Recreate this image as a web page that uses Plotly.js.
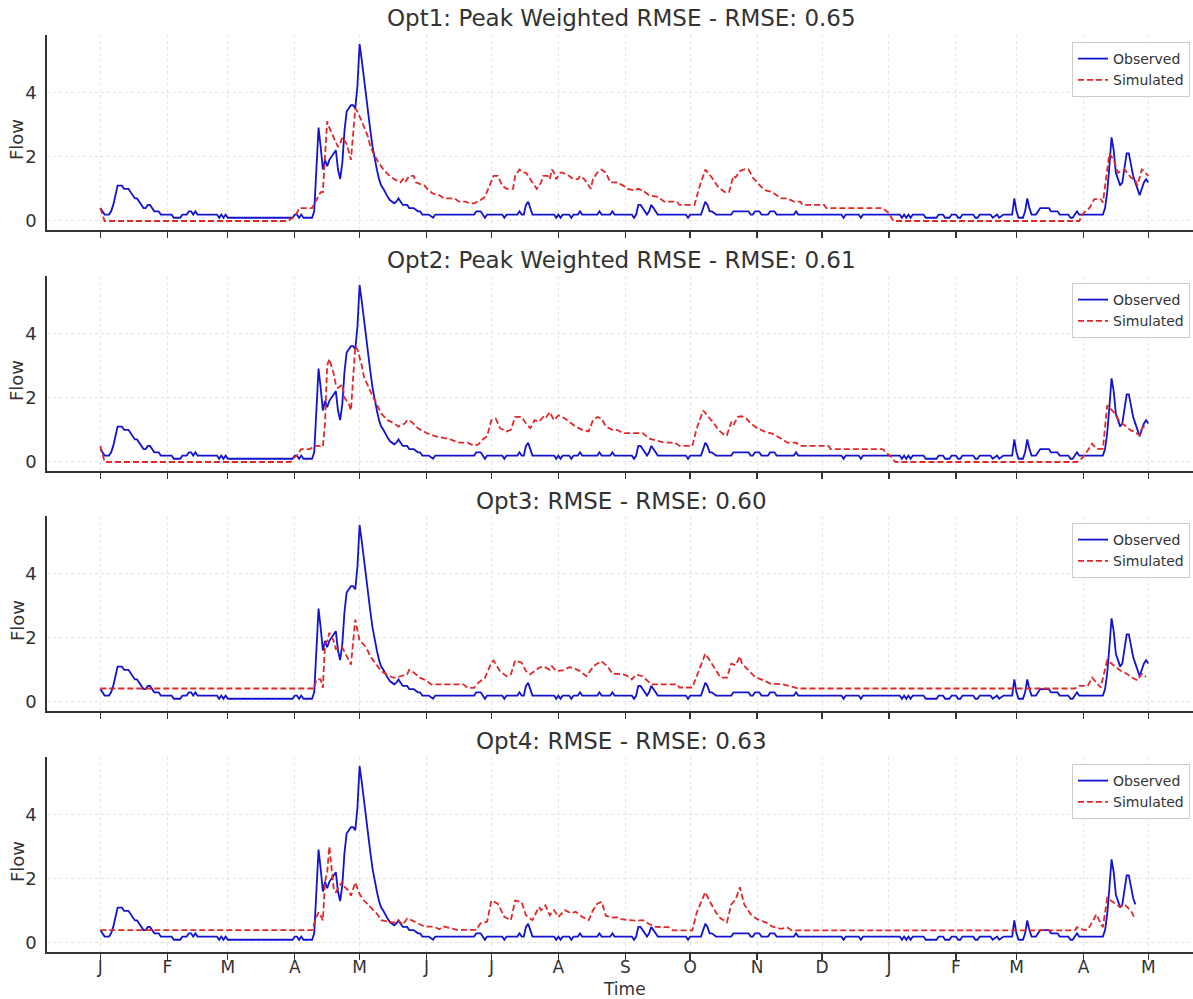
<!DOCTYPE html>
<html>
<head>
<meta charset="utf-8">
<script src="https://cdn.plot.ly/plotly-3.0.1.min.js"></script>
<style>
  html, body { margin: 0; padding: 0; background: #fff; }
  #chart { width: 1193px; height: 999px; }
</style>
</head>
<body>
<div id="chart"></div>
<script>
// Daily flow series, days counted from 1 Jan 2021.
const obsDay = [
  0,1,2,4,5,6,7,8,10,11,
  13,14,15,16,17,18,19,20,21,22,
  23,24,25,27,28,33,34,37,38,40,
  41,42,43,44,45,54,55,56,57,58,
  59,89,90,91,92,93,94,98,99,100,
  101,102,103,104,105,106,107,108,109,110,
  111,112,113,114,115,116,117,118,119,120,
  121,122,123,124,125,126,127,128,129,130,
  131,132,133,134,135,136,137,138,139,140,
  142,143,145,147,148,149,152,154,155,173,
  174,176,177,178,179,186,187,188,193,194,
  195,196,197,198,199,200,210,211,212,213,
  214,217,218,219,221,222,223,230,231,232,
  236,237,238,246,247,248,249,250,251,252,
  253,254,255,256,257,258,271,272,273,278,
  279,280,281,282,283,285,292,293,300,301,
  302,303,305,306,309,310,312,313,321,322,
  323,343,344,345,351,352,353,370,371,372,
  373,374,375,376,381,382,387,388,390,391,
  393,394,396,397,398,399,404,405,406,407,
  412,413,415,416,418,422,423,424,425,427,
  428,429,430,431,433,434,435,439,440,443,
  444,448,449,450,451,452,453,464,465,466,
  467,468,469,470,471,472,473,474,475,476,
  477,478,479,480,481,482,483,484,485
];
const obsFlow = [
  0.4,0.3,0.2,0.2,0.3,0.5,0.8,1.1,1.1,1.0,
  1.0,0.9,0.8,0.7,0.7,0.6,0.5,0.4,0.4,0.5,
  0.5,0.4,0.3,0.3,0.2,0.2,0.1,0.1,0.2,0.2,
  0.3,0.3,0.2,0.3,0.2,0.2,0.1,0.2,0.1,0.2,
  0.1,0.1,0.2,0.2,0.1,0.2,0.1,0.1,0.3,1.6,
  2.9,2.3,1.6,1.9,1.7,1.9,2.0,2.1,2.2,1.6,
  1.3,1.8,2.8,3.4,3.5,3.6,3.6,3.5,4.2,5.5,
  5.0,4.4,3.9,3.3,2.8,2.3,1.9,1.6,1.3,1.1,
  1.0,0.85,0.75,0.65,0.6,0.55,0.6,0.7,0.6,0.5,
  0.5,0.4,0.4,0.3,0.3,0.2,0.2,0.1,0.2,0.2,
  0.3,0.3,0.2,0.1,0.2,0.2,0.1,0.2,0.2,0.3,
  0.2,0.2,0.5,0.6,0.4,0.2,0.2,0.1,0.2,0.1,
  0.2,0.2,0.1,0.2,0.2,0.3,0.2,0.2,0.3,0.2,
  0.2,0.3,0.2,0.2,0.1,0.2,0.5,0.5,0.4,0.3,
  0.2,0.3,0.5,0.4,0.3,0.2,0.2,0.1,0.2,0.2,
  0.4,0.6,0.5,0.3,0.3,0.2,0.2,0.3,0.3,0.2,
  0.2,0.3,0.3,0.2,0.2,0.3,0.3,0.2,0.2,0.3,
  0.2,0.2,0.1,0.2,0.2,0.1,0.2,0.2,0.1,0.2,
  0.1,0.2,0.1,0.2,0.2,0.1,0.1,0.2,0.2,0.1,
  0.1,0.2,0.2,0.1,0.1,0.2,0.2,0.1,0.1,0.2,
  0.2,0.1,0.2,0.1,0.2,0.2,0.7,0.3,0.1,0.1,
  0.3,0.7,0.4,0.2,0.2,0.3,0.4,0.4,0.3,0.3,
  0.2,0.2,0.1,0.1,0.2,0.3,0.2,0.2,0.4,0.9,
  1.7,2.6,2.2,1.5,1.3,1.1,1.2,1.6,2.1,2.1,
  1.7,1.4,1.2,1.0,0.8,1.0,1.2,1.3,1.2
];

const sim1Day = [
  0,2,87,89,91,92,98,100,102,103,
  104,105,106,108,110,111,112,114,116,118,
  119,121,124,125,128,131,134,136,139,140,
  141,143,145,146,150,152,154,157,159,164,
  166,169,171,173,176,178,180,182,184,186,
  188,191,192,194,196,197,200,202,204,205,
  207,208,209,210,211,213,214,217,219,221,
  222,224,227,228,230,232,234,236,239,242,
  244,247,249,251,254,258,260,261,267,268,
  275,277,280,283,286,289,291,293,294,296,
  298,300,302,304,306,308,311,313,315,318,
  321,324,325,335,336,362,365,367,453,455,
  458,460,463,464,467,469,471,474,477,479,
  480,482,483,485
];
const sim1Flow = [
  0.4,0,0,0.1,0.25,0.4,0.4,0.65,0.9,0.9,
  2.2,3.1,2.9,2.6,2.3,2.4,2.6,2.4,1.9,3.5,
  3.4,3.1,2.6,2.3,1.9,1.6,1.4,1.3,1.2,1.3,
  1.2,1.4,1.4,1.2,1.1,0.95,0.85,0.8,0.7,0.7,
  0.6,0.6,0.55,0.55,0.65,0.75,1.1,1.4,1.4,1.1,
  1.0,1.0,1.4,1.6,1.5,1.5,1.2,1.0,1.2,1.4,
  1.4,1.3,1.6,1.5,1.3,1.5,1.5,1.4,1.3,1.3,
  1.4,1.3,1.0,1.3,1.5,1.6,1.5,1.2,1.2,1.1,
  1.0,0.95,1.0,0.95,0.8,0.75,0.65,0.6,0.6,0.5,
  0.5,1.0,1.6,1.35,1.05,0.9,0.9,1.4,1.35,1.55,
  1.6,1.6,1.35,1.2,1.05,0.95,0.9,0.8,0.7,0.7,
  0.6,0.6,0.5,0.5,0.4,0.4,0.24,0,0,0.24,
  0.42,0.68,0.68,0.57,2.1,1.9,1.5,1.6,1.35,1.27,
  1.1,1.6,1.55,1.4
];

const sim2Day = [
  0,2,88,89,91,93,97,99,101,103,
  104,105,106,108,109,110,112,113,115,116,
  118,119,121,122,125,128,130,133,136,138,
  141,142,144,147,151,155,158,162,166,170,
  173,175,177,179,181,183,185,188,190,192,
  195,197,199,201,203,205,206,208,210,212,
  215,218,220,223,226,228,230,232,234,237,
  239,242,245,247,249,251,254,257,261,266,
  268,274,276,279,281,284,286,289,290,292,
  293,295,297,299,301,304,308,311,315,318,
  322,324,337,338,362,366,368,452,454,456,
  459,461,464,466,469,472,474,477,479,481,
  482,483,484
];
const sim2Flow = [
  0.5,0,0,0.1,0.2,0.4,0.4,0.5,0.5,0.47,
  1.2,3.0,3.2,2.75,2.4,2.3,2.4,2.0,1.8,1.6,
  3.6,3.5,3.0,2.65,2.2,1.8,1.5,1.3,1.2,1.1,
  1.2,1.3,1.25,1.05,0.9,0.8,0.75,0.7,0.6,0.6,
  0.5,0.55,0.7,0.8,1.3,1.35,1.05,0.95,1.0,1.4,
  1.4,1.2,1.05,1.3,1.25,1.4,1.35,1.55,1.3,1.45,
  1.35,1.2,1.1,1.0,0.95,1.3,1.4,1.35,1.1,1.0,
  1.0,0.9,0.9,0.9,0.88,0.9,0.73,0.68,0.6,0.6,
  0.5,0.5,1.04,1.6,1.45,1.2,1.0,0.83,0.83,1.24,
  1.14,1.4,1.42,1.35,1.2,1.05,0.93,0.88,0.73,0.6,
  0.6,0.5,0.5,0.4,0.4,0.16,0,0,0.1,0.26,
  0.57,0.41,0.41,1.76,1.55,1.24,1.14,0.98,0.93,0.83,
  1.04,1.1,1.0
];

const sim3Day = [
  0,99,100,102,103,104,105,106,108,109,
  112,114,116,118,120,121,123,125,128,130,
  134,136,139,142,143,145,148,151,153,168,
  170,173,175,178,181,182,185,188,190,192,
  195,197,199,203,205,208,209,211,214,217,
  219,222,225,227,229,232,235,237,242,245,
  246,248,251,253,255,267,268,274,277,280,
  282,285,287,290,292,294,296,297,300,303,
  307,310,316,323,451,453,457,459,461,463,
  466,469,472,475,477,480,482,484
];
const sim3Flow = [
  0.42,0.42,0.7,0.7,0.44,1.78,1.9,2.15,1.9,1.65,
  1.7,1.42,1.16,2.56,1.9,1.85,1.7,1.42,1.16,0.96,
  0.8,0.75,0.8,0.86,1.0,0.92,0.75,0.67,0.55,0.55,
  0.44,0.44,0.6,0.75,1.22,1.29,0.96,0.8,0.86,1.29,
  1.22,0.96,0.86,1.06,1.11,1.0,1.11,0.96,0.98,1.08,
  1.06,0.96,0.8,1.0,1.15,1.27,1.08,0.88,0.86,0.78,
  0.7,0.85,0.8,0.67,0.55,0.55,0.45,0.45,0.98,1.5,
  1.3,0.98,0.76,0.76,1.19,1.14,1.42,1.19,0.98,0.78,
  0.67,0.57,0.55,0.42,0.42,0.5,0.5,0.76,0.6,0.45,
  1.3,1.14,0.98,0.88,0.78,0.67,0.88,0.78
];

const sim4Day = [
  0,98,100,101,102,103,104,105,106,107,
  108,109,110,112,113,115,116,118,120,122,
  125,128,130,134,136,138,140,142,144,147,
  150,154,157,159,162,165,174,176,179,181,
  184,187,190,192,195,197,200,203,204,206,
  208,210,212,215,218,220,223,226,228,230,
  232,234,237,239,241,245,248,251,254,257,
  263,265,274,276,280,282,285,287,290,292,
  294,296,298,301,304,308,311,315,318,320,
  451,452,455,457,461,463,464,466,469,472,
  474,477,479
];
const sim4Flow = [
  0.4,0.4,0.8,0.95,0.85,0.7,1.9,2.2,3.0,2.3,
  1.7,1.57,1.7,1.9,1.75,1.62,1.47,1.88,1.52,1.32,
  1.12,0.91,0.71,0.66,0.63,0.71,0.56,0.76,0.71,0.61,
  0.51,0.51,0.43,0.51,0.46,0.41,0.41,0.61,0.66,1.32,
  1.22,0.81,0.71,1.32,1.27,0.86,0.71,1.12,1.02,1.17,
  0.86,1.02,0.81,1.02,0.92,0.97,0.81,0.71,1.02,1.22,
  1.28,0.84,0.79,0.8,0.74,0.71,0.69,0.71,0.59,0.5,
  0.49,0.39,0.39,0.94,1.58,1.3,0.94,0.77,0.64,1.2,
  1.35,1.73,1.2,0.89,0.74,0.64,0.51,0.44,0.48,0.39,
  0.39,0.49,0.41,0.41,0.89,0.6,0.49,1.4,1.25,1.12,
  1.2,1.0,0.74
];

// The last run stops a few days earlier than the others.
const obsEnd4 = 479;

const panelTitles = [
  'Opt1: Peak Weighted RMSE - RMSE: 0.65',
  'Opt2: Peak Weighted RMSE - RMSE: 0.61',
  'Opt3: RMSE - RMSE: 0.60',
  'Opt4: RMSE - RMSE: 0.63'
];
const monthDays = [0,31,59,90,120,151,181,212,243,273,304,334,365,396,424,455,485];
const monthLetters = ['J','F','M','A','M','J','J','A','S','O','N','D','J','F','M','A','M'];
const yTicks = [0, 2, 4];

const BASE = Date.UTC(2021, 0, 1);
function toDate(d) {
  return new Date(BASE + d * 86400000).toISOString().slice(0, 19).replace('T', ' ');
}

const W = 1193, H = 999, ML = 47;
const FONT = 'DejaVu Sans, Liberation Sans, sans-serif';
const TXT = '#333333';
const OBS_COLOR = '#1212d2';
const SIM_COLOR = '#e32626';

// pixel bands of the four plot areas (top, bottom)
const bands = [[35, 230], [276, 471], [516, 711], [757, 952]];
const titleY = [18, 260, 501, 741];
const flowY = [140, 381, 621, 862];
const legendTop = [42, 283, 523, 764];

const sims = [
  [sim1Day, sim1Flow], [sim2Day, sim2Flow], [sim3Day, sim3Flow], [sim4Day, sim4Flow]
];

const px2x = p => (p - ML) / (W - ML);
const py2y = p => 1 - p / H;

const traces = [];
const layout = {
  width: W, height: H,
  margin: {l: ML, r: 0, t: 0, b: 0},
  paper_bgcolor: '#ffffff',
  plot_bgcolor: '#ffffff',
  font: {family: FONT, color: TXT, size: 15},
  showlegend: true,
  annotations: []
};

const xRange = [toDate(-24.67), toDate(505.7)];

for (let i = 0; i < 4; i++) {
  const n = i === 0 ? '' : String(i + 1);
  const xa = 'x' + n, ya = 'y' + n;
  const lg = 'legend' + n;

  let oDay = obsDay, oFlow = obsFlow;
  if (i === 3) {
    const keep = obsDay.map(d => d <= obsEnd4);
    oDay = obsDay.filter((d, k) => keep[k]);
    oFlow = obsFlow.filter((v, k) => keep[k]);
  }

  traces.push({
    type: 'scatter', mode: 'lines', name: 'Observed',
    x: oDay.map(toDate), y: oFlow,
    xaxis: xa, yaxis: ya, legend: lg,
    line: {color: OBS_COLOR, width: 1.8}
  });
  traces.push({
    type: 'scatter', mode: 'lines', name: 'Simulated',
    x: sims[i][0].map(toDate), y: sims[i][1],
    xaxis: xa, yaxis: ya, legend: lg,
    line: {color: SIM_COLOR, width: 1.8, dash: '6px,3px'}
  });

  const [top, bot] = bands[i];
  layout['xaxis' + n] = {
    type: 'date',
    domain: [0, 1],
    anchor: ya,
    range: xRange,
    tickvals: monthDays.map(toDate),
    ticktext: monthLetters,
    showticklabels: i === 3,
    ticks: 'outside', ticklen: 6, tickwidth: 1.4, tickcolor: '#333',
    ticklabelstandoff: -7,
    tickfont: {size: 17, color: TXT, family: FONT},
    showline: true, linecolor: '#333', linewidth: 1.6,
    showgrid: true, gridcolor: '#e4e4e4', gridwidth: 1, griddash: 'dot',
    zeroline: false, automargin: false, fixedrange: true
  };
  layout['yaxis' + n] = {
    domain: [py2y(bot), py2y(top)],
    anchor: xa,
    range: [-0.28, 5.78],
    tickvals: yTicks,
    ticktext: yTicks.map(String),
    ticks: '', ticklabelstandoff: 5,
    tickfont: {size: 18, color: TXT, family: FONT},
    showline: true, linecolor: '#333', linewidth: 1.6,
    showgrid: true, gridcolor: '#e4e4e4', gridwidth: 1, griddash: 'dot',
    zeroline: false, automargin: false, fixedrange: true
  };
  layout[lg] = {
    x: px2x(1190), xanchor: 'right',
    y: py2y(legendTop[i]), yanchor: 'top',
    bgcolor: 'rgba(255,255,255,0.9)',
    bordercolor: '#cccccc', borderwidth: 1,
    font: {size: 14, color: TXT, family: FONT},
    tracegroupgap: 0
  };

  layout.annotations.push({
    text: panelTitles[i], showarrow: false,
    xref: 'paper', yref: 'paper',
    x: px2x(621), y: py2y(titleY[i]),
    xanchor: 'center', yanchor: 'middle',
    font: {size: 23, color: TXT, family: FONT}
  });
  layout.annotations.push({
    text: 'Flow', showarrow: false, textangle: -90,
    xref: 'paper', yref: 'paper',
    x: px2x(17), y: py2y(flowY[i]),
    xanchor: 'center', yanchor: 'middle',
    font: {size: 18, color: TXT, family: FONT}
  });
}

layout.annotations.push({
  text: 'Time', showarrow: false,
  xref: 'paper', yref: 'paper',
  x: px2x(624), y: py2y(989),
  xanchor: 'center', yanchor: 'middle',
  font: {size: 17, color: TXT, family: FONT}
});

Plotly.newPlot('chart', traces, layout, {displayModeBar: false, staticPlot: true});
</script>
</body>
</html>
